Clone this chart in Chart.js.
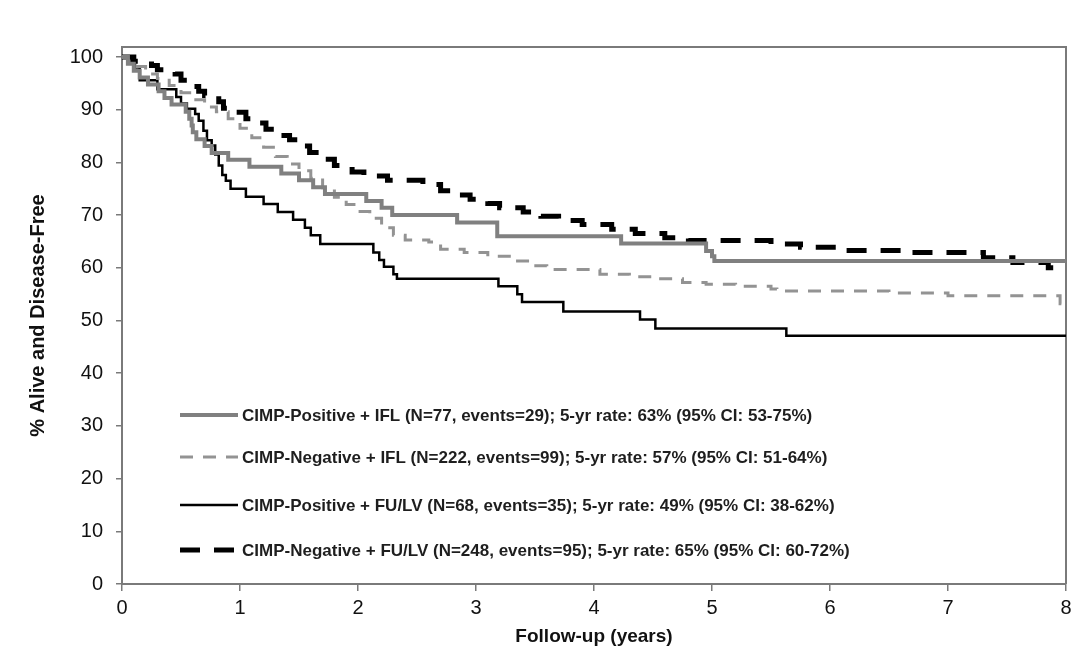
<!DOCTYPE html>
<html>
<head>
<meta charset="utf-8">
<script src="https://cdn.jsdelivr.net/npm/chart.js@4.4.1/dist/chart.umd.min.js"></script>
<style>
    html, body { margin: 0; padding: 0; background: #fff; }
    #wrap { position: relative; width: 1087px; height: 653px; }
</style>
</head>
<body>
<div id="wrap"><canvas id="chartKM" width="1087" height="653"></canvas></div>
<script>
// Datos (años, % vivos y libres de enfermedad)
const xTicks = [0, 1, 2, 3, 4, 5, 6, 7, 8];
const yTicks = [0, 10, 20, 30, 40, 50, 60, 70, 80, 90, 100];

// CIMP-Positive + IFL
const posIflT = [0, 0.05, 0.1, 0.15, 0.22, 0.31, 0.36, 0.42, 0.54, 0.57, 0.59, 0.6, 0.63, 0.7, 0.76, 0.9, 1.08, 1.35, 1.5, 1.62, 1.72, 2.07, 2.2, 2.29, 2.84, 3.18, 4.23, 4.95, 5.0, 5.02, 8];
const posIflS = [100, 98.7, 97.4, 96.1, 94.8, 93.5, 92.2, 91.0, 89.6, 88.3, 87.0, 85.7, 84.4, 83.1, 81.8, 80.5, 79.2, 77.9, 76.6, 75.3, 74.0, 72.7, 71.4, 70.0, 68.6, 66.0, 64.6, 63.2, 62.2, 61.3, 61.3];

// CIMP-Negative + IFL
const negIflT = [0, 0.05, 0.1, 0.2, 0.3, 0.4, 0.5, 0.6, 0.7, 0.8, 0.9, 1.0, 1.1, 1.2, 1.3, 1.4, 1.5, 1.6, 1.7, 1.8, 1.9, 2.0, 2.1, 2.2, 2.3, 2.4, 2.6, 2.7, 2.9, 3.1, 3.3, 3.45, 3.6, 4.05, 4.3, 4.55, 4.75, 4.95, 5.2, 5.5, 5.55, 6.5, 7.0, 7.95, 8];
const negIflS = [100, 99.1, 98.2, 96.8, 95.9, 94.6, 93.2, 91.9, 90.5, 89.6, 88.3, 86.5, 84.7, 82.9, 81.1, 79.7, 78.4, 77.0, 75.2, 73.4, 72.0, 70.7, 69.4, 67.6, 66.2, 65.3, 64.9, 63.5, 62.9, 62.2, 61.3, 60.4, 59.7, 58.8, 58.3, 57.9, 57.2, 56.9, 56.5, 56.0, 55.6, 55.2, 54.7, 53.2, 53.2];

// CIMP-Positive + FU/LV
const posFuT = [0, 0.08, 0.11, 0.15, 0.3, 0.46, 0.5, 0.55, 0.62, 0.65, 0.69, 0.72, 0.76, 0.79, 0.82, 0.85, 0.88, 0.92, 1.05, 1.2, 1.32, 1.45, 1.55, 1.6, 1.68, 2.13, 2.18, 2.22, 2.3, 2.33, 3.19, 3.35, 3.39, 3.74, 4.39, 4.52, 5.63, 8];
const posFuS = [100, 99.0, 98.0, 95.6, 93.9, 92.4, 91.2, 90.2, 89.2, 87.9, 86.0, 84.2, 83.2, 81.5, 79.4, 77.6, 76.5, 75.0, 73.5, 72.1, 70.6, 69.1, 67.6, 66.2, 64.5, 62.9, 61.5, 60.2, 58.8, 57.9, 56.5, 55.0, 53.5, 51.7, 50.2, 48.5, 47.1, 47.1];

// CIMP-Negative + FU/LV
const negFuT = [0, 0.1, 0.25, 0.3, 0.45, 0.5, 0.6, 0.65, 0.7, 0.82, 0.86, 0.95, 1.05, 1.15, 1.22, 1.35, 1.42, 1.5, 1.59, 1.7, 1.8, 1.95, 2.05, 2.25, 2.55, 2.7, 2.85, 2.95, 3.1, 3.2, 3.4, 3.55, 3.7, 3.9, 4.15, 4.35, 4.6, 4.8, 5.5, 5.75, 6.1, 6.6, 7.3, 7.55, 7.85, 8];
const negFuS = [100, 99.2, 98.4, 97.6, 96.8, 95.6, 94.4, 93.5, 92.7, 91.5, 90.3, 89.5, 88.3, 87.5, 86.3, 85.1, 84.3, 83.1, 81.9, 80.6, 79.4, 78.2, 77.4, 76.6, 75.8, 74.6, 73.8, 73.0, 72.2, 71.4, 70.6, 69.8, 69.0, 68.2, 67.3, 66.5, 65.7, 65.2, 64.5, 63.9, 63.3, 62.9, 61.9, 61.0, 60.0, 60.0];

const legendLabels = [
    'CIMP-Positive + IFL (N=77, events=29); 5-yr rate: 63% (95% CI: 53-75%)',
    'CIMP-Negative + IFL (N=222, events=99); 5-yr rate: 57% (95% CI: 51-64%)',
    'CIMP-Positive + FU/LV (N=68, events=35); 5-yr rate: 49% (95% CI: 38-62%)',
    'CIMP-Negative + FU/LV (N=248, events=95); 5-yr rate: 65% (95% CI: 60-72%)'
];

const FONT = '"Liberation Sans", Arial, sans-serif';
const AXIS_COLOR = '#7a7a7a';

// Convertir pares de arrays en puntos {x, y}
function toPoints(ts, ss) {
    return ts.map((t, i) => ({ x: t, y: ss[i] }));
}

// Marco superior y derecho del area del grafico
const framePlugin = {
    id: 'frame',
    beforeDatasetsDraw(chart) {
        const { ctx, chartArea } = chart;
        ctx.save();
        ctx.strokeStyle = AXIS_COLOR;
        ctx.lineWidth = 2;
        ctx.beginPath();
        ctx.moveTo(chartArea.left, chartArea.top);
        ctx.lineTo(chartArea.right, chartArea.top);
        ctx.lineTo(chartArea.right, chartArea.bottom);
        ctx.stroke();
        ctx.restore();
    }
};

// Leyenda dentro del area, como en la figura original
const legendRowsY = [415, 457, 505, 550];
const kmLegend = {
    id: 'kmLegend',
    afterDatasetsDraw(chart) {
        const ctx = chart.ctx;
        ctx.save();
        ctx.font = 'bold 17px ' + FONT;
        ctx.textBaseline = 'middle';
        legendLabels.forEach((txt, i) => {
            const ds = chart.data.datasets[i];
            const y = legendRowsY[i];
            ctx.strokeStyle = ds.borderColor;
            ctx.lineWidth = ds.borderWidth;
            ctx.setLineDash(ds.borderDash || []);
            ctx.beginPath();
            ctx.moveTo(180, y);
            ctx.lineTo(238, y);
            ctx.stroke();
            ctx.setLineDash([]);
            ctx.fillStyle = '#1e1e1e';
            ctx.fillText(txt, 242, y + 1);
        });
        ctx.restore();
    }
};

function serie(label, ts, ss, color, width, dash) {
    return {
        label: label,
        data: toPoints(ts, ss),
        borderColor: color,
        borderWidth: width,
        borderDash: dash,
        stepped: true,
        pointRadius: 0,
        fill: false
    };
}

const chartKM = new Chart(document.getElementById('chartKM'), {
    type: 'line',
    data: {
        datasets: [
            serie(legendLabels[0], posIflT, posIflS, '#808080', 4, []),
            serie(legendLabels[1], negIflT, negIflS, '#939393', 3, [13, 10]),
            serie(legendLabels[2], posFuT, posFuS, '#000000', 2.5, []),
            serie(legendLabels[3], negFuT, negFuS, '#000000', 5, [20, 14])
        ]
    },
    options: {
        responsive: false,
        animation: false,
        layout: { padding: { top: 47, right: 21, left: 0, bottom: 0 } },
        plugins: {
            legend: { display: false },
            tooltip: { enabled: false }
        },
        scales: {
            x: {
                type: 'linear',
                min: 0,
                max: 8,
                afterFit: (scale) => { scale.height = 69; },
                afterBuildTicks: (scale) => { scale.ticks = xTicks.map(v => ({ value: v })); },
                border: { display: true, color: AXIS_COLOR, width: 2 },
                grid: { drawOnChartArea: false, drawTicks: true, tickLength: 7, color: AXIS_COLOR, lineWidth: 1.5 },
                ticks: { color: '#111', font: { family: FONT, size: 20 }, padding: 5, maxRotation: 0 },
                title: {
                    display: true,
                    text: 'Follow-up (years)',
                    color: '#111',
                    font: { family: FONT, size: 19, weight: 'bold' },
                    padding: { top: 0, bottom: 5 }
                }
            },
            y: {
                min: 0,
                max: 101.9,
                afterFit: (scale) => { scale.width = 122; },
                afterBuildTicks: (scale) => { scale.ticks = yTicks.map(v => ({ value: v })); },
                border: { display: true, color: AXIS_COLOR, width: 2 },
                grid: { drawOnChartArea: false, drawTicks: true, tickLength: 6, color: AXIS_COLOR, lineWidth: 1.5 },
                ticks: { color: '#111', font: { family: FONT, size: 20 }, padding: 13 },
                title: {
                    display: true,
                    text: '% Alive and Disease-Free',
                    color: '#111',
                    font: { family: FONT, size: 20, weight: 'bold' },
                    padding: { top: 26, bottom: 0 }
                }
            }
        }
    },
    plugins: [framePlugin, kmLegend]
});
</script>
</body>
</html>
